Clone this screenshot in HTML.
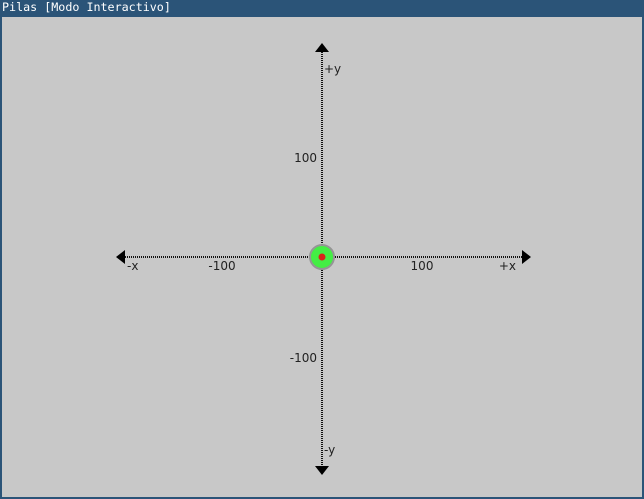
<!DOCTYPE html>
<html><head><meta charset="utf-8"><style>
html,body{margin:0;padding:0;width:644px;height:499px;overflow:hidden;background:#2b5478}
#win{position:absolute;left:0;top:0;width:644px;height:499px;}
#title{position:absolute;left:2px;top:0;height:16px;line-height:16px;color:#fff;font:11.7px "DejaVu Sans Mono","Liberation Mono",monospace;}
#canvas{position:absolute;left:2px;top:17px;width:640px;height:480px;background:#c8c8c8}
text{font-family:"DejaVu Sans","Liberation Sans",sans-serif;font-size:12px;fill:#222}
</style></head><body>
<div id="win">
<div id="title">Pilas [Modo Interactivo]</div>
<div id="canvas"></div>
<svg id="svg" width="644" height="499" style="position:absolute;left:0;top:0"></svg>
</div>
<script>
const xTicks=[-100,100];
const yTicks=[100,-100];
const actorX=[0];
const actorY=[0];
const ox=322, oy=257, s=1;
const X=v=>ox+v*s, Y=v=>oy-v*s;
const ns="http://www.w3.org/2000/svg", svg=document.getElementById('svg');
function mk(t,a){const e=document.createElementNS(ns,t);for(const k in a)e.setAttribute(k,a[k]);svg.appendChild(e);return e;}
let e;
e=mk('line',{x1:123,y1:oy,x2:524,y2:oy,stroke:'#111','stroke-width':2,'stroke-dasharray':'1 1'});


e=mk('line',{x1:ox,y1:52,x2:ox,y2:466,stroke:'#111','stroke-width':2,'stroke-dasharray':'1 1'});


e=mk('polygon',{points:`116,${oy} 125,${oy-7} 125,${oy+7}`,fill:'#000'});


e=mk('polygon',{points:`531,${oy} 522,${oy-7} 522,${oy+7}`,fill:'#000'});


e=mk('polygon',{points:`${ox},43 ${ox-7},52 ${ox+7},52`,fill:'#000'});


e=mk('polygon',{points:`${ox},475 ${ox-7},466 ${ox+7},466`,fill:'#000'});


xTicks.forEach(v=>{const t=mk('text',{x:X(v),y:oy+13,'text-anchor':'middle'});t.textContent=v;

});
yTicks.forEach(v=>{const t=mk('text',{x:ox-5,y:Y(v)+5,'text-anchor':'end'});t.textContent=v;

});
[["-x",127,oy+13,'start'],["+x",516,oy+13,'end'],["+y",324,73,'start'],["-y",324,454,'start']].forEach(a=>{
const t=mk('text',{x:a[1],y:a[2],'text-anchor':a[3]});t.textContent=a[0];

});
actorX.forEach((v,i)=>{
const c=mk('circle',{cx:X(v),cy:Y(actorY[i]),r:12,fill:'#44ee44',stroke:'#959595','stroke-width':2});


const d=mk('circle',{cx:X(v),cy:Y(actorY[i]),r:3.5,fill:'#d8251a'});


});
</script>
</body></html>
